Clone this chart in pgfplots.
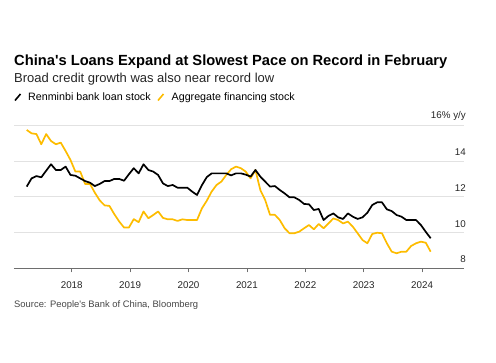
\documentclass[border=0pt]{standalone}
\usepackage{fontspec}
\setmainfont{Liberation Sans}
\usepackage{pgfplots}
\usepackage{pgfplotstable}
\pgfplotsset{compat=1.18}
\definecolor{bbyellow}{RGB}{253,188,0}
\definecolor{gridgray}{RGB}{226,226,226}
\definecolor{axisgray}{RGB}{110,110,110}
\definecolor{srcgray}{RGB}{70,70,70}

\pgfplotstableread{
i loan
0 12.57
1 13.03
2 13.16
3 13.09
4 13.46
5 13.82
6 13.50
7 13.50
8 13.69
9 13.22
10 13.18
11 13.03
12 12.88
13 12.79
14 12.60
15 12.72
16 12.88
17 12.88
18 13.00
19 13.00
20 12.90
21 13.26
22 13.60
23 13.31
24 13.82
25 13.50
26 13.41
27 13.22
28 12.75
29 12.60
30 12.66
31 12.51
32 12.51
33 12.51
34 12.29
35 12.10
36 12.65
37 13.10
38 13.31
39 13.31
40 13.31
41 13.31
42 13.20
43 13.31
44 13.31
45 13.24
46 13.13
47 13.50
48 13.13
49 12.85
50 12.57
51 12.60
52 12.38
53 12.19
54 11.97
55 11.97
56 11.82
57 11.60
58 11.58
59 11.26
60 11.32
61 10.70
62 10.93
63 11.07
64 10.85
65 10.76
66 11.07
67 10.89
68 10.76
69 10.85
70 11.11
71 11.54
72 11.69
73 11.69
74 11.30
75 11.20
76 10.98
77 10.89
78 10.70
79 10.70
80 10.70
81 10.42
82 10.04
83 9.68
}\loantable

\pgfplotstableread{
i afs
0 15.74
1 15.55
2 15.51
3 14.94
4 15.51
5 15.12
6 14.94
7 15.03
8 14.56
9 14.06
10 13.41
11 13.41
12 12.72
13 12.72
14 12.23
15 11.80
16 11.52
17 11.49
18 11.03
19 10.62
20 10.28
21 10.28
22 10.75
23 10.58
24 11.18
25 10.80
26 10.98
27 11.18
28 10.82
29 10.74
30 10.74
31 10.65
32 10.74
33 10.70
34 10.70
35 10.70
36 11.35
37 11.78
38 12.29
39 12.66
40 12.85
41 13.22
42 13.54
43 13.69
44 13.60
45 13.41
46 13.03
47 13.50
48 12.38
49 11.82
50 10.99
51 10.99
52 10.70
53 10.24
54 9.96
55 9.96
56 10.05
57 10.24
58 10.42
59 10.18
60 10.48
61 10.24
62 10.51
63 10.79
64 10.70
65 10.51
66 10.61
67 10.33
68 9.96
69 9.58
70 9.40
71 9.92
72 9.99
73 9.96
74 9.40
75 8.93
76 8.84
77 8.93
78 8.93
79 9.25
80 9.40
81 9.49
82 9.43
83 8.93
}\afstable

\begin{document}
\begin{tikzpicture}[x=1pt,y=1pt]
\useasboundingbox (0,0) rectangle (496,363);
% titles
\node[anchor=base west,inner sep=0pt,font=\fontsize{14.7}{16}\selectfont\bfseries] at (14,297) {China\textquotesingle s Loans Expand at Slowest Pace on Record in February};
\node[anchor=base west,inner sep=0pt,font=\fontsize{13}{15}\selectfont,text=black!85] at (14,280.3) {Broad credit growth was also near record low};
% legend
\draw[line width=1.6pt,black] (15,262.5) -- (20.5,269);
\node[anchor=base west,inner sep=0pt,font=\fontsize{10.7}{12}\selectfont] at (28,262) {Renminbi bank loan stock};
\draw[line width=1.6pt,bbyellow] (158,262.5) -- (163.5,269);
\node[anchor=base west,inner sep=0pt,font=\fontsize{10.7}{12}\selectfont] at (171.5,262) {Aggregate financing stock};
% source
\node[anchor=base west,inner sep=0pt,font=\fontsize{9.4}{11}\selectfont,text=srcgray] at (14,55) {Source: People\textquotesingle s Bank of China, Bloomberg};

\begin{axis}[
  at={(14pt,94.7pt)}, anchor=south west,
  scale only axis, width=450pt, height=143pt,
  xmin=2017.012, xmax=2024.717,
  ymin=8, ymax=16,
  axis x line*=bottom,
  axis y line*=right,
  y axis line style={draw=none},
  x axis line style={draw=axisgray, line width=0.8pt},
  xtick={2018,2019,2020,2021,2022,2023,2024},
  xticklabels={2018,2019,2020,2021,2022,2023,2024},
  tick align=outside,
  major tick length=4pt,
  xtick style={draw=axisgray, line width=0.7pt},
  ytick={8,10,12,14,16},
  yticklabels={8,10,12,14,16\% y/y},
  ytick style={draw=none},
  ymajorgrids,
  grid style={draw=gridgray, line width=0.8pt},
  xticklabel style={font=\fontsize{9.8}{11}\selectfont, text=black!85, yshift=-6pt},
  yticklabel style={font=\fontsize{9.8}{11}\selectfont, text=black!85, anchor=south east, inner sep=0pt, xshift=-2pt, yshift=5pt},
  /pgf/number format/assume math mode=true,
  clip=false,
]
\addplot[bbyellow, line width=1.7pt, line join=round] table[x expr=2017.2295+\thisrow{i}/12, y=afs] {\afstable};
\addplot[black, line width=1.7pt, line join=round] table[x expr=2017.2295+\thisrow{i}/12, y=loan] {\loantable};
\end{axis}
\end{tikzpicture}
\end{document}
